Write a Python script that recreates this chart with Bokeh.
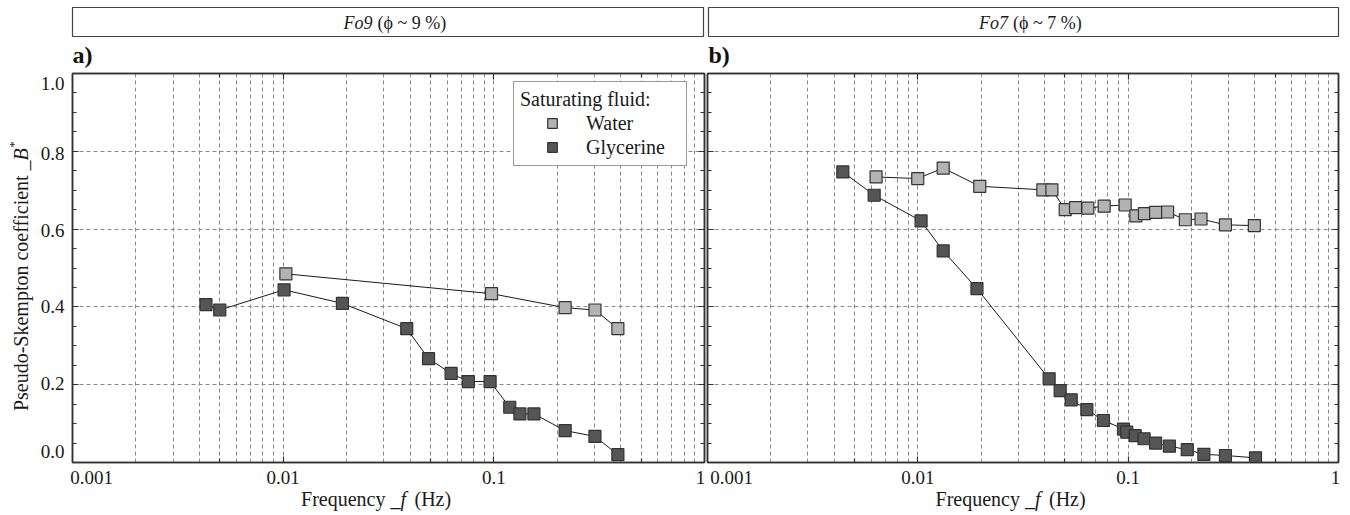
import math
from bokeh.plotting import figure
from bokeh.models import (Range1d, FixedTicker, LogAxis, LinearAxis, Label, Legend,
                          LegendItem, CustomJSTickFormatter, BoxAnnotation)
from bokeh.layouts import column, row
from bokeh.embed import file_html
from bokeh.resources import INLINE

FONT = "Liberation Serif"

# ---------------- data ----------------
freq_a_water = [0.0103, 0.0975, 0.218, 0.302, 0.388]
b_a_water = [0.485, 0.434, 0.398, 0.392, 0.344]

freq_a_gly = [0.0043, 0.0050, 0.0101, 0.0191, 0.0386, 0.049, 0.0627, 0.0757, 0.096,
              0.119, 0.133, 0.155, 0.218, 0.302, 0.388]
b_a_gly = [0.406, 0.392, 0.444, 0.409, 0.344, 0.267, 0.229, 0.208, 0.208,
           0.142, 0.125, 0.125, 0.082, 0.067, 0.020]

freq_b_water = [0.00633, 0.00999, 0.0132, 0.0197, 0.0393, 0.0434, 0.0502, 0.0562, 0.0643,
                0.0769, 0.0968, 0.1088, 0.1195, 0.135, 0.154, 0.187, 0.222, 0.290, 0.398]
b_b_water = [0.734, 0.730, 0.757, 0.710, 0.701, 0.701, 0.650, 0.655, 0.654,
             0.659, 0.662, 0.634, 0.640, 0.643, 0.644, 0.624, 0.626, 0.611, 0.609]

freq_b_gly = [0.0044, 0.0062, 0.01036, 0.0132, 0.0191, 0.0421, 0.0475, 0.0536, 0.0636,
              0.0763, 0.095, 0.0985, 0.108, 0.119, 0.135, 0.157, 0.191, 0.229, 0.290, 0.403]
b_b_gly = [0.747, 0.687, 0.621, 0.544, 0.447, 0.215, 0.185, 0.161, 0.136,
           0.108, 0.086, 0.078, 0.069, 0.061, 0.050, 0.042, 0.033, 0.021, 0.018, 0.012]

x_major = [0.001, 0.01, 0.1, 1.0]
x_major_labels = ["0.001", "0.01", "0.1", "1"]
y_major = [0.0, 0.2, 0.4, 0.6, 0.8, 1.0]
y_major_labels = ["0.0", "0.2", "0.4", "0.6", "0.8", "1.0"]

series_names = ["Water", "Glycerine"]
legend_title = "Saturating fluid:"
panel_headers = [("Fo9", "(\u03d5 ~ 9 %)"), ("Fo7", "(\u03d5 ~ 7 %)")]
panel_tags = ["a)", "b)"]
x_title = ("Frequency _", "f", "(Hz)")
y_title = ("Pseudo-Skempton coefficient _", "B", "*")

# ---------------- styles / layout ----------------
WATER_FILL = "#b3b3b3"
GLY_FILL = "#555555"
EDGE = "#333333"
TXT = "#1a1a1a"
GRID = "#8a8a8a"
TICK_FS = "19px"
TITLE_FS = "20px"

x_grid_ticks = [m * d for d in x_major[:-1] for m in range(1, 10)] + [1.0]
x_minor = [5 * d for d in x_major[:-1]]
y_minor = [i * 0.05 for i in range(21)]

W = 1350
HEAD_H = 70
MAIN_H = 394
STRIP_H = 515 - HEAD_H - MAIN_H
YSTRIP_W = 66
FRAME_TOP = 73
FRAME_BOT = 462
FRAME_H = FRAME_BOT - FRAME_TOP
PA = dict(left=72, width=632)    # frame of panel a (page pixels)
PB = dict(left=707, width=631)   # frame of panel b (page pixels)
PA_CANVAS = (YSTRIP_W, 706)
PB_CANVAS = (706, W)


def blank_fig(width, height, x_range, y_range, x_axis_type="linear"):
    f = figure(width=width, height=height, x_range=x_range, y_range=y_range,
               x_axis_type=x_axis_type, output_backend="svg", toolbar_location=None,
               min_border_left=0, min_border_right=0, min_border_top=0, min_border_bottom=0,
               x_axis_location=None, y_axis_location=None)
    f.grid.visible = False
    f.outline_line_color = None
    f.background_fill_color = "white"
    f.border_fill_color = "white"
    return f


def txt(x, y, text, align="left", size=TICK_FS, style="normal",
        angle=0.0, x_offset=0, color=TXT):
    return Label(x=x, y=y, text=text, text_align=align, text_baseline="middle",
                 text_font=FONT, text_font_size=size, text_font_style=style,
                 angle=angle, x_offset=x_offset, text_color=color)


def style_axis(ax):
    ax.axis_line_color = EDGE
    ax.axis_line_width = 1.5
    ax.major_tick_in = 6
    ax.major_tick_out = 0
    ax.minor_tick_in = 4
    ax.minor_tick_out = 0
    ax.major_tick_line_color = EDGE
    ax.minor_tick_line_color = EDGE
    ax.major_tick_line_width = 1.2
    ax.minor_tick_line_width = 1.2
    ax.axis_label = None
    ax.formatter = CustomJSTickFormatter(code="return ''")
    ax.major_label_text_font_size = "0px"
    ax.major_label_text_color = None
    ax.major_label_standoff = 0


def make_panel(canvas, frame, wf, wv, gf, gv, with_legend):
    width = canvas[1] - canvas[0]
    bl = frame["left"] - canvas[0]
    br = canvas[1] - frame["left"] - frame["width"]
    p = figure(width=width, height=MAIN_H, x_axis_type="log",
               x_range=Range1d(x_major[0], x_major[-1]), y_range=Range1d(y_major[0], y_major[-1]),
               output_backend="svg", toolbar_location=None,
               min_border_left=bl, min_border_right=br,
               min_border_top=FRAME_TOP - HEAD_H,
               min_border_bottom=HEAD_H + MAIN_H - FRAME_BOT)
    p.outline_line_color = EDGE
    p.outline_line_width = 1.5
    p.background_fill_color = "white"
    p.border_fill_color = "white"

    xa = p.xaxis[0]
    xa.ticker = FixedTicker(ticks=x_major[1:-1], minor_ticks=x_minor)
    style_axis(xa)
    ya = p.yaxis[0]
    ya.ticker = FixedTicker(ticks=y_major[1:-1], minor_ticks=y_minor)
    style_axis(ya)
    top = LogAxis(ticker=FixedTicker(ticks=x_major[1:-1], minor_ticks=x_minor))
    style_axis(top)
    p.add_layout(top, "above")
    right = LinearAxis(ticker=FixedTicker(ticks=y_major[1:-1], minor_ticks=y_minor))
    style_axis(right)
    p.add_layout(right, "right")

    p.xgrid.ticker = FixedTicker(ticks=x_grid_ticks)
    p.ygrid.ticker = FixedTicker(ticks=y_major[1:-1])
    for g in (p.xgrid[0], p.ygrid[0]):
        g.grid_line_color = GRID
        g.grid_line_dash = "4 3"
        g.grid_line_width = 1

    p.line(wf, wv, line_color="#1a1a1a", line_width=1)
    p.line(gf, gv, line_color="#1a1a1a", line_width=1)
    rw = p.scatter(wf, wv, marker="square", size=12, fill_color=WATER_FILL,
                   line_color=EDGE, line_width=1.2)
    rg = p.scatter(gf, gv, marker="square", size=12, fill_color=GLY_FILL,
                   line_color=EDGE, line_width=1.2)

    if with_legend:
        leg = Legend(items=[LegendItem(label=series_names[0], renderers=[rw]),
                            LegendItem(label=series_names[1], renderers=[rg])],
                     title=legend_title, location=(441, 296))
        leg.title_text_font = FONT
        leg.title_text_font_size = TITLE_FS
        leg.title_text_font_style = "normal"
        leg.title_text_color = TXT
        leg.title_standoff = 0
        leg.label_text_font = FONT
        leg.label_text_font_size = TITLE_FS
        leg.label_text_color = TXT
        leg.glyph_width = 64
        leg.glyph_height = 24
        leg.label_height = 24
        leg.label_width = 94
        leg.spacing = 0
        leg.label_standoff = 2
        leg.padding = 6
        leg.margin = 0
        leg.border_line_color = EDGE
        leg.border_line_width = 1.2
        leg.background_fill_color = "white"
        leg.background_fill_alpha = 1
        p.add_layout(leg)
    return p


# ---------------- header strip (boxes with sample names, panel tags) ----------------
head = blank_fig(W, HEAD_H, Range1d(0, W), Range1d(HEAD_H, 0))
boxes = [(72, 703), (708, 1338)]
for (l, r), (name, rest), tag in zip(boxes, panel_headers, panel_tags):
    head.add_layout(BoxAnnotation(left=l, right=r, top=7, bottom=36, fill_color=None,
                                  line_color="#444444", line_alpha=1.0, line_width=1.2))
    start = (l + r) / 2 - 44.5
    head.add_layout(txt(start, 22, name, size="18px", style="italic"))
    head.add_layout(txt(start + 34, 22, rest, size="18px"))
    head.add_layout(txt(l, 54, tag, size="24px", style="bold", color="#111111"))


# ---------------- y strip (tick labels and title of the shared y axis) ----------------
def yval(py):
    return (FRAME_BOT - py) / FRAME_H


ystrip = blank_fig(YSTRIP_W, MAIN_H, Range1d(0, YSTRIP_W),
                   Range1d(yval(HEAD_H + MAIN_H), yval(HEAD_H)))
for v, lab in zip(y_major, y_major_labels):
    if v == y_major[0]:
        yy = yval(453)
    elif v == y_major[-1]:
        yy = yval(80)
    else:
        yy = v
    ystrip.add_layout(txt(64, yy, lab, align="right"))
jy = yval(158)
ystrip.add_layout(txt(20, jy, y_title[0], align="right", size=TITLE_FS, angle=math.pi / 2))
ystrip.add_layout(txt(20, jy, y_title[1], align="left", size=TITLE_FS, style="italic",
                      angle=math.pi / 2))
ystrip.add_layout(txt(13, yval(145), y_title[2], align="left", size="12px", angle=math.pi / 2))


# ---------------- x strips (tick labels and titles under each panel) ----------------
def make_xstrip(canvas, frame, edge_offsets):
    dec = frame["width"] / 3.0

    def xv(px):
        return 10 ** (math.log10(x_major[0]) + (px - frame["left"]) / dec)

    s = blank_fig(canvas[1] - canvas[0], STRIP_H, Range1d(xv(canvas[0]), xv(canvas[1])),
                  Range1d(STRIP_H, 0), x_axis_type="log")
    ty = 477 - (HEAD_H + MAIN_H)
    for i, (v, lab) in enumerate(zip(x_major, x_major_labels)):
        off = edge_offsets[0] if i == 0 else (edge_offsets[1] if i == len(x_major) - 1 else 0)
        s.add_layout(txt(v, ty, lab, align="center", x_offset=off))
    by = 498 - (HEAD_H + MAIN_H)
    centre = 10 ** ((math.log10(x_major[0]) + math.log10(x_major[-1])) / 2)
    s.add_layout(txt(centre, by, x_title[0], align="right", size=TITLE_FS, x_offset=12))
    s.add_layout(txt(centre, by, x_title[1], align="left", size=TITLE_FS, style="italic",
                     x_offset=12))
    s.add_layout(txt(centre, by, x_title[2], align="left", size=TITLE_FS, x_offset=26))
    return s


pa = make_panel(PA_CANVAS, PA, freq_a_water, b_a_water, freq_a_gly, b_a_gly, True)
pb = make_panel(PB_CANVAS, PB, freq_b_water, b_b_water, freq_b_gly, b_b_gly, False)
xsa = make_xstrip((0, PA_CANVAS[1]), PA, (19, -4))
xsb = make_xstrip(PB_CANVAS, PB, (24, -3))

layout = column(head, row(ystrip, pa, pb), row(xsa, xsb))
open("out.html", "w").write(file_html(layout, INLINE))
